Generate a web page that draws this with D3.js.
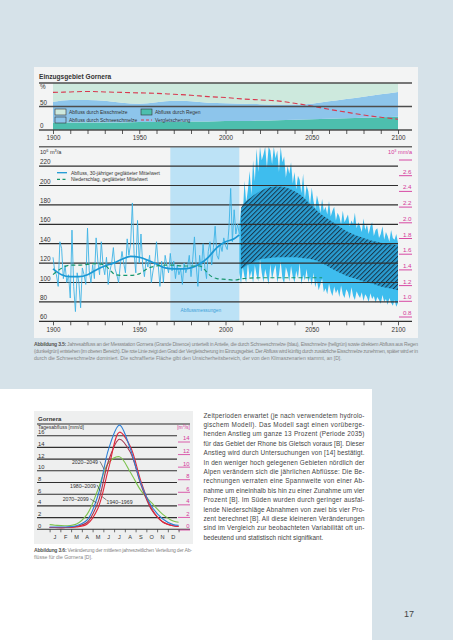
<!DOCTYPE html>
<html><head><meta charset="utf-8">
<script src="https://cdn.jsdelivr.net/npm/d3@7"></script>
<style>
html,body{margin:0;padding:0;background:#d6e2e9;}
svg{display:block;}
text{font-family:"Liberation Sans",Arial,sans-serif;}
</style></head><body>
<svg id="c" width="453" height="640"></svg>
<script>
// ---------- DATA ----------
// Top chart: runoff shares (%)
const shareYears = [1900,1910,1920,1930,1940,1950,1960,1970,1980,1990,2000,2010,2020,2030,2040,2050,2060,2070,2080,2090,2100];
const rainShare  = [16,16,16,16,16,17,17,17,18,18,19,19,20,21,22,23,24,25,26,27,28];
const snowShare  = [44,48,48,46,42,39,42,45,43,40,38,37,35,33,32,33,37,41,45,49,53];
const iceShare   = [40,36,36,38,42,44,41,38,39,42,43,44,45,46,46,44,39,34,29,24,19];
const glacierPct = [80,81,82,81,80,79,78,76,74,71,69,66,64,62,57,51,44,38,32,27,23];
const topTicks = [0,50,100];
const topLegend = ["Abfluss durch Eisschmelze","Abfluss durch Schneeschmelze","Abfluss durch Regen","Vergletscherung"];

// Main chart: annual runoff 1900-2008 (10^6 m3/a)
const histStart = 1900;
const histRunoff = [126,112,108,96,142,135,104,118,100,108,
 84,154,96,70,110,100,74,115,108,98,
 156,112,100,118,104,146,122,108,142,118,
 108,126,98,112,120,136,114,108,100,118,
 132,120,110,145,128,140,182,130,110,164,
 120,150,118,106,124,116,128,100,112,120,
 142,118,96,122,100,128,118,110,130,112,
 122,104,118,108,114,98,120,110,116,128,
 106,124,147,118,96,128,112,140,116,104,
 132,142,118,136,158,128,124,140,132,146,
 138,134,156,197,142,175,150,160,150];
const smoothYears = [1900,1905,1910,1915,1920,1925,1930,1935,1940,1945,1950,1955,1960,1965,1970,1975,1980,1985,1990,1995,2000,2005,2008];
const smoothRunoff = [114,108,106,106,108,113,117,120,124,127,126,123,119,115,114,114,115,119,126,136,142,145,149];
const precipYears = [1900,1905,1910,1915,1920,1925,1930,1933,1936,1940,1945,1950,1955,1960,1965,1970,1975,1980,1985,1988,1991,1995,2000,2005,2010,2020,2030,2040,2050,2056];
const precipVals  = [1.34,1.42,1.46,1.46,1.47,1.48,1.46,1.40,1.34,1.33,1.33,1.35,1.42,1.45,1.46,1.46,1.45,1.45,1.45,1.40,1.33,1.29,1.28,1.27,1.29,1.30,1.30,1.30,1.30,1.30];
// Scenario ensemble envelope 2008-2100
const futStart = 2008;
const futUpper = [158,176,168,205,182,196,215,190,226,204,
 238,214,240,226,232,240,218,240,236,222,
 240,228,236,214,240,224,230,208,220,212,
 224,202,214,196,210,206,192,212,186,200,
 194,180,198,184,176,190,182,172,186,174,
 178,170,184,168,174,178,164,172,168,160,
 174,162,166,170,158,164,160,172,156,162,
 158,152,166,154,160,150,158,162,148,154,
 156,146,150,158,144,152,148,142,154,146,
 144,150,141];
const futLower = [110,98,116,106,100,120,104,112,99,118,
 108,101,124,110,100,114,106,98,119,103,
 112,118,100,108,122,104,99,116,110,101,
 117,106,100,112,104,120,98,108,102,114,
 100,106,97,110,95,102,92,98,104,90,
 94,88,99,91,86,96,89,93,85,97,
 88,84,93,90,83,95,86,82,91,87,
 84,90,81,88,85,80,89,83,86,79,
 85,82,78,87,80,83,77,84,79,76,
 82,75,79];
const hatchYears = [2009,2010,2015,2020,2025,2030,2035,2040,2045,2050,2055,2060,2065,2070,2075,2080,2085,2090,2095,2100];
const hatchUpper = [177,180,188,194,198,199,198,194,188,179,171,165,159,153,149,146,143,141,139.5,138.5];
const hatchLower = [114,115,120,124,125,126,126,126,125,124,121,116,111,107,104,101,99,96,94,92];
const measureBand = [1968,2008];
const leftTicks = [60,80,100,120,140,160,180,200,220,240];
const rightTicks = [0.8,1.0,1.2,1.4,1.6,1.8,2.0,2.2,2.4,2.6,2.8];
const yearTicks = d3.range(1900,2101,10);

// Lower chart: mean daily runoff by month (mm/d)
const monthNames = ["J","F","M","A","M","J","J","A","S","O","N","D"];
const flowMonths = [0,0.5,1.5,2.5,3.5,4.5,5.5,6.5,7.5,8.5,9.5,10.5,11.5,12];
const q2070 = [0.8,0.7,0.6,0.9,2.6,6.8,11.4,12.4,9.8,6.6,4.5,2.6,1.4,1.2];
const q1980 = [0.3,0.3,0.3,0.5,1.2,4.6,11.8,15.4,13.2,7.6,3.3,1.3,0.6,0.5];
const q1940 = [0.3,0.3,0.3,0.4,0.9,3.6,10.5,16.6,14.2,8.2,3.5,1.3,0.6,0.5];
const q2020 = [0.4,0.4,0.4,0.6,1.6,5.8,13.8,17.8,13.8,7.8,3.9,1.8,0.8,0.7];
const periodNames = ["2070–2099","1980–2009","1940–1969","2020–2049"];
const periodColors = ["#7cc24e","#a5364f","#e2263a","#2d7fd6"];
const periodLabelPos = [[1.22,5.1],[1.9,7.4],[5.3,4.7],[2.08,11.4]];
const periodPointer = [[[3.78,5.2],[4.38,4.5]],[[4.41,7.6],[4.73,6.5]],[[5.3,5.0],[4.87,5.6]],[[4.69,11.6],[5.06,10.3]]];
const leftFlowTicks = [0,2,4,6,8,10,12,14,16,18];
const rightFlowTicks = [0,2,4,6,8,10,12,14];

// Texts
const caption35 = [
 ["Abbildung 3.5:", " Jahresabfluss an der Messstation Gornera (Grande Dixence) unterteilt in Anteile, die durch Schneeschmelze (blau), Eisschmelze (hellgrün) sowie direktem Abfluss aus Regen"],
 ["", "(dunkelgrün) entstehen (im oberen Bereich). Die rote Linie zeigt den Grad der Vergletscherung im Einzugsgebiet. Der Abfluss wird künftig durch zusätzliche Eisschmelze zunehmen, später wird er in"],
 ["", "durch die Schneeschmelze dominiert. Die schraffierte Fläche gibt den Unsicherheitsbereich, der von den Klimaszenarien stammt, an [D]."]
];
const caption36 = [
 ["Abbildung 3.6:", " Veränderung der mittleren jahreszeitlichen Verteilung der Ab-"],
 ["", "flüsse für die Gornera [D]."]
];
const bodyLines = [
 "Zeitperioden erwartet (je nach verwendetem hydrolo-",
 "gischem Modell). Das Modell sagt einen vorüberge-",
 "henden Anstieg um ganze 13 Prozent (Periode 2035)",
 "für das Gebiet der Rhone bis Gletsch voraus [B]. Dieser",
 "Anstieg wird durch Untersuchungen von [14] bestätigt.",
 "In den weniger hoch gelegenen Gebieten nördlich der",
 "Alpen verändern sich die jährlichen Abflüsse: Die Be-",
 "rechnungen verraten eine Spannweite von einer Ab-",
 "nahme um eineinhalb bis hin zu einer Zunahme um vier",
 "Prozent [B]. Im Süden wurden durch geringer ausfal-",
 "lende Niederschläge Abnahmen von zwei bis vier Pro-",
 "zent berechnet [B]. All diese kleineren Veränderungen",
 "sind im Vergleich zur beobachteten Variabilität oft un-",
 "bedeutend und statistisch nicht signifikant."
];

// ---------- DRAW ----------
const svg = d3.select("#c");
const MAG = "#d4379b";
const defs = svg.append("defs");
const pat = defs.append("pattern").attr("id","hatch").attr("patternUnits","userSpaceOnUse")
  .attr("width",3.3).attr("height",3.3).attr("patternTransform","rotate(45)");
pat.append("rect").attr("width",3.3).attr("height",3.3).attr("fill","#2a9dd1");
pat.append("line").attr("x1",0.5).attr("y1",0).attr("x2",0.5).attr("y2",3.3).attr("stroke","#17364a").attr("stroke-width",1);

// page backgrounds
svg.append("rect").attr("width",453).attr("height",640).attr("fill","#d6e2e9");
svg.append("rect").attr("x",0).attr("y",389).attr("width",372).attr("height",251).attr("fill","#ffffff");
svg.append("rect").attr("x",34).attr("y",67).attr("width",384).attr("height",271).attr("fill","#f3f4f4");
svg.append("rect").attr("x",34).attr("y",411).attr("width",159).attr("height",133).attr("fill","#eeefef");

// ===== Top chart =====
const xT = d3.scaleLinear().domain([1900,2100]).range([53,398]);
const yT = d3.scaleLinear().domain([0,100]).range([130,83]);
svg.append("text").attr("x",39).attr("y",78.5).attr("font-size",6.6).attr("font-weight","bold").attr("fill","#333").text("Einzugsgebiet Gornera");
const rows = shareYears.map((yr,i)=>({year:yr, rain:rainShare[i], snow:snowShare[i], ice:iceShare[i]}));
const stacked = d3.stack().keys(["rain","snow","ice"])(rows);
const shareColors = {rain:"#4dbfae", snow:"#8dc5eb", ice:"#cde9dd"};
const areaT = d3.area().x(d=>xT(d.data.year)).y0(d=>yT(d[0])).y1(d=>yT(d[1])).curve(d3.curveMonotoneX);
svg.append("g").selectAll("path").data(stacked).join("path")
  .attr("d",areaT).attr("fill",d=>shareColors[d.key]);
svg.append("path").datum(glacierPct.map((v,i)=>[shareYears[i],v]))
  .attr("d",d3.line().x(d=>xT(d[0])).y(d=>yT(d[1])).curve(d3.curveMonotoneX))
  .attr("fill","none").attr("stroke","#d8394f").attr("stroke-width",1.1).attr("stroke-dasharray","5,3");
svg.append("g").selectAll("line").data(topTicks).join("line")
  .attr("x1",39).attr("x2",412).attr("y1",d=>yT(d)).attr("y2",d=>yT(d))
  .attr("stroke","#4d4d4d").attr("stroke-width",1.4);
svg.append("g").selectAll("text").data(topTicks).join("text")
  .attr("x",40).attr("y",d=> d===100 ? yT(d)+6.3 : yT(d)-1.8)
  .attr("font-size",6.3).attr("fill","#333").text(d=> d===100 ? "%" : d);
// top legend
const lg = svg.append("g").attr("font-size",4.9).attr("fill","#333");
const legItems = [
  {x:55,y:112,type:"box",fill:shareColors.ice,label:topLegend[0]},
  {x:55,y:120,type:"box",fill:shareColors.snow,label:topLegend[1]},
  {x:141,y:112,type:"box",fill:shareColors.rain,label:topLegend[2]},
  {x:141,y:120,type:"dash",fill:"#d8394f",label:topLegend[3]}
];
legItems.forEach(it=>{
  if(it.type==="box"){
    lg.append("rect").attr("x",it.x).attr("y",it.y-3).attr("width",11).attr("height",6)
      .attr("fill",it.fill).attr("stroke","#333").attr("stroke-width",0.6);
  } else {
    lg.append("line").attr("x1",it.x).attr("x2",it.x+11).attr("y1",it.y).attr("y2",it.y)
      .attr("stroke",it.fill).attr("stroke-width",1).attr("stroke-dasharray","3,2");
  }
  lg.append("text").attr("x",it.x+14).attr("y",it.y+1.7).text(it.label);
});
const axT = svg.append("g").attr("transform","translate(0,130)")
  .call(d3.axisBottom(xT).tickValues(yearTicks).tickSize(4).tickPadding(2).tickFormat(d=> d%50===0 ? d : ""));
axT.select(".domain").remove();
axT.selectAll("line").attr("stroke","#333").attr("stroke-width",0.8);
axT.selectAll("text").attr("font-size",6.3).attr("fill","#333").attr("font-family","Liberation Sans, Arial, sans-serif");

// ===== Main chart =====
const xM = d3.scaleLinear().domain([1900,2100]).range([53,398]);
const yM = d3.scaleLinear().domain([60,240]).range([321.3,146.7]);
const yP = d3.scaleLinear().domain([0.8,2.8]).range([317,160]);
svg.append("rect").attr("x",xM(measureBand[0])).attr("y",yM(240))
  .attr("width",xM(measureBand[1])-xM(measureBand[0])).attr("height",yM(60)-yM(240)).attr("fill","#bce2f6");
svg.append("text").attr("x",(xM(measureBand[0])+xM(measureBand[1]))/2-4).attr("y",311.5)
  .attr("text-anchor","middle").attr("font-size",4.8).attr("fill","#3a9ed8").text("Abflussmessungen");
// ensemble envelope
const fut = futUpper.map((u,i)=>({year:futStart+i,u:u,l:futLower[i]}));
svg.append("path").datum(fut)
  .attr("d",d3.area().x(d=>xM(d.year)).y0(d=>yM(d.l)).y1(d=>yM(d.u)))
  .attr("fill","#3ebdee");
// hatched uncertainty
const hatch = hatchYears.map((yr,i)=>({year:yr,u:hatchUpper[i],l:hatchLower[i]}));
svg.append("path").datum(hatch)
  .attr("d",d3.area().x(d=>xM(d.year)).y0(d=>yM(d.l)).y1(d=>yM(d.u)).curve(d3.curveMonotoneX))
  .attr("fill","url(#hatch)");
// gridlines
svg.append("g").selectAll("line").data(leftTicks).join("line")
  .attr("x1",39).attr("x2",d=> (d===240||d===60) ? 412 : 398)
  .attr("y1",d=>yM(d)).attr("y2",d=>yM(d))
  .attr("stroke",d=> d===240 ? "#6a6a6a" : "#2f2f2f").attr("stroke-width",d=> d===240 ? 1.6 : 1.2);
svg.append("g").selectAll("text").data(leftTicks.filter(d=>d<240)).join("text")
  .attr("x",40).attr("y",d=>yM(d)-2).attr("font-size",6.4).attr("fill","#333").text(d=>d);
const unitL = svg.append("text").attr("x",40).attr("y",153.5).attr("font-size",5.6).attr("fill","#333");
unitL.append("tspan").text("10");
unitL.append("tspan").attr("font-size",3.8).attr("dy",-2).text("6");
unitL.append("tspan").attr("dy",2).text(" m");
unitL.append("tspan").attr("font-size",3.8).attr("dy",-2).text("3");
unitL.append("tspan").attr("dy",2).text("/a");
// right axis
svg.append("g").selectAll("line").data(rightTicks).join("line")
  .attr("x1",399).attr("x2",412).attr("y1",d=>yP(d)).attr("y2",d=>yP(d))
  .attr("stroke",MAG).attr("stroke-width",0.9);
svg.append("g").selectAll("text").data(rightTicks.filter(d=>d<2.8)).join("text")
  .attr("x",411.5).attr("y",d=>yP(d)-2).attr("text-anchor","end").attr("font-size",6.2).attr("fill",MAG)
  .text(d=>d.toFixed(1));
const unitR = svg.append("text").attr("x",412).attr("y",153.5).attr("text-anchor","end").attr("font-size",5.6).attr("fill",MAG);
unitR.append("tspan").text("10");
unitR.append("tspan").attr("font-size",3.8).attr("dy",-2).text("3");
unitR.append("tspan").attr("dy",2).text(" mm/a");
// annual runoff
svg.append("path").datum(histRunoff.map((v,i)=>[histStart+i,v]))
  .attr("d",d3.line().x(d=>xM(d[0])).y(d=>yM(d[1])))
  .attr("fill","none").attr("stroke","#3db3e5").attr("stroke-width",0.9);
svg.append("path").datum(smoothRunoff.map((v,i)=>[smoothYears[i],v]))
  .attr("d",d3.line().x(d=>xM(d[0])).y(d=>yM(d[1])).curve(d3.curveMonotoneX))
  .attr("fill","none").attr("stroke","#1b98d4").attr("stroke-width",1.7);
svg.append("path").datum(precipVals.map((v,i)=>[precipYears[i],v]))
  .attr("d",d3.line().x(d=>xM(d[0])).y(d=>yP(d[1])).curve(d3.curveMonotoneX))
  .attr("fill","none").attr("stroke","#17966c").attr("stroke-width",1.2).attr("stroke-dasharray","4,3");
// main legend
const ml = svg.append("g").attr("font-size",4.9).attr("fill","#333");
ml.append("line").attr("x1",57).attr("x2",67).attr("y1",172.7).attr("y2",172.7).attr("stroke","#1b98d4").attr("stroke-width",1.3);
ml.append("text").attr("x",71).attr("y",174.5).text("Abfluss, 30-jähriger geglätteter Mittelwert");
ml.append("line").attr("x1",57).attr("x2",67).attr("y1",179.3).attr("y2",179.3).attr("stroke","#17966c").attr("stroke-width",1.2).attr("stroke-dasharray","3,2.5");
ml.append("text").attr("x",71).attr("y",181.1).text("Niederschlag, geglätteter Mittelwert");
// main x axis
const axM = svg.append("g").attr("transform","translate(0,321.3)")
  .call(d3.axisBottom(xM).tickValues(yearTicks).tickSize(4).tickPadding(2).tickFormat(d=> d%50===0 ? d : ""));
axM.select(".domain").remove();
axM.selectAll("line").attr("stroke","#333").attr("stroke-width",0.8);
axM.selectAll("text").attr("font-size",6.3).attr("fill","#333").attr("font-family","Liberation Sans, Arial, sans-serif");

// caption 3.5
caption35.forEach((ln,i)=>{
  const t = svg.append("text").attr("x",34).attr("y",346+i*6.8).attr("font-size",5.1).attr("fill","#858585");
  if(i<2){ t.attr("textLength",384).attr("lengthAdjust","spacing"); }
  if(ln[0]) t.append("tspan").attr("font-weight","bold").attr("fill","#555").text(ln[0]);
  t.append("tspan").text(ln[1]);
});

// ===== Lower chart =====
const xS = d3.scaleLinear().domain([0,12]).range([49.6,178.6]);
const yS = d3.scaleLinear().domain([0,18]).range([529.3,424]);
const yS2 = d3.scaleLinear().domain([0,14]).range([530,442]);
svg.append("text").attr("x",38).attr("y",421).attr("font-size",6).attr("font-weight","bold").attr("fill","#333").text("Gornera");
svg.append("g").selectAll("line").data(leftFlowTicks).join("line")
  .attr("x1",37).attr("x2",d=> (d===18||d===0) ? 190 : 177)
  .attr("y1",d=>yS(d)).attr("y2",d=>yS(d))
  .attr("stroke",d=> d===18 ? "#6a6a6a" : "#2f2f2f").attr("stroke-width",d=> d===18 ? 1.4 : 1.1);
svg.append("text").attr("x",38).attr("y",429).attr("font-size",5).attr("fill","#333").text("Tagesabfluss [mm/d]");
svg.append("g").selectAll("text").data(leftFlowTicks.filter(d=>d<18)).join("text")
  .attr("x",38).attr("y",d=>yS(d)-1.6).attr("font-size",5.8).attr("fill","#333").text(d=>d);
svg.append("g").selectAll("line").data(rightFlowTicks).join("line")
  .attr("x1",178).attr("x2",190).attr("y1",d=>yS2(d)).attr("y2",d=>yS2(d))
  .attr("stroke",MAG).attr("stroke-width",0.8);
svg.append("g").selectAll("text").data(rightFlowTicks).join("text")
  .attr("x",189.5).attr("y",d=>yS2(d)-1.6).attr("text-anchor","end").attr("font-size",5.8).attr("fill",MAG).text(d=>d);
const unitS = svg.append("text").attr("x",190).attr("y",429).attr("text-anchor","end").attr("font-size",5).attr("fill",MAG);
unitS.append("tspan").text("[m");
unitS.append("tspan").attr("font-size",3.5).attr("dy",-1.6).text("3");
unitS.append("tspan").attr("dy",1.6).text("/s]");
// month axis
const axS = svg.append("g").attr("transform","translate(0,529.3)")
  .call(d3.axisBottom(xS).tickValues(d3.range(0,13)).tickSize(3).tickFormat(""));
axS.select(".domain").remove();
axS.selectAll("line").attr("stroke","#333").attr("stroke-width",0.7);
svg.append("g").selectAll("text").data(monthNames).join("text")
  .attr("x",(d,i)=>xS(i+0.5)).attr("y",538.5).attr("text-anchor","middle")
  .attr("font-size",5.6).attr("fill","#333").text(d=>d);
// curves
const series = [q2070,q1980,q1940,q2020];
const lineS = d3.line().x(d=>xS(d[0])).y(d=>yS(d[1])).curve(d3.curveCatmullRom.alpha(0.5));
svg.append("g").selectAll("path").data(series).join("path")
  .attr("d",s=>lineS(s.map((v,i)=>[flowMonths[i],v])))
  .attr("fill","none").attr("stroke",(s,i)=>periodColors[i]).attr("stroke-width",1.1);
// period labels
periodNames.forEach((nm,i)=>{
  svg.append("line")
    .attr("x1",xS(periodPointer[i][0][0])).attr("y1",yS(periodPointer[i][0][1]))
    .attr("x2",xS(periodPointer[i][1][0])).attr("y2",yS(periodPointer[i][1][1]))
    .attr("stroke","#333").attr("stroke-width",0.6);
  svg.append("text").attr("x",xS(periodLabelPos[i][0])).attr("y",yS(periodLabelPos[i][1])+1.8)
    .attr("font-size",5.2).attr("fill","#333").text(nm);
});
// caption 3.6
caption36.forEach((ln,i)=>{
  const t = svg.append("text").attr("x",34).attr("y",552+i*7).attr("font-size",5.1).attr("fill","#858585");
  if(i===0){ t.attr("textLength",158).attr("lengthAdjust","spacing"); }
  if(ln[0]) t.append("tspan").attr("font-weight","bold").attr("fill","#555").text(ln[0]);
  t.append("tspan").text(ln[1]);
});

// body text
svg.append("g").selectAll("text").data(bodyLines).join("text")
  .attr("x",203.5).attr("y",(d,i)=>417.5+i*9.4)
  .attr("font-size",6.4).attr("fill","#444")
  .each(function(d,i){ if(i<bodyLines.length-1) d3.select(this).attr("textLength",161).attr("lengthAdjust","spacing"); })
  .text(d=>d);

// page number
svg.append("text").attr("x",409).attr("y",617).attr("text-anchor","middle").attr("font-size",9).attr("fill","#444").text("17");
</script>
</body></html>
